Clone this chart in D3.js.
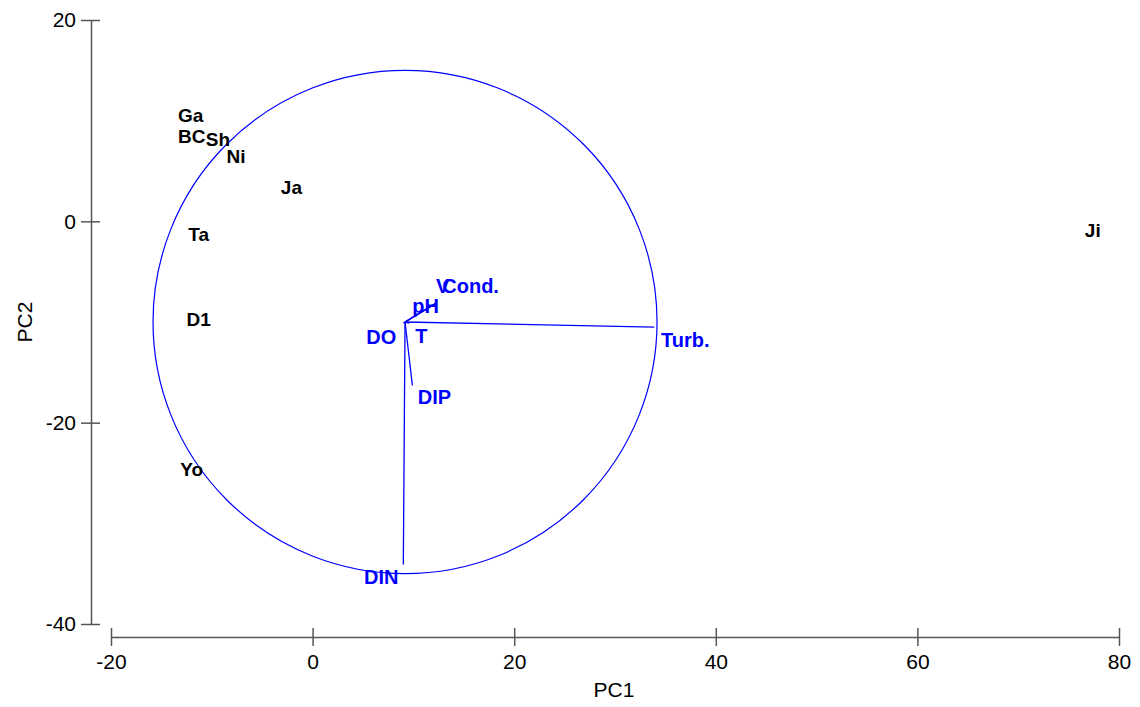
<!DOCTYPE html>
<html>
<head>
<meta charset="utf-8">
<script src="https://cdn.jsdelivr.net/npm/d3@7"></script>
<style>
  body { margin: 0; background: #fff; }
  svg { font-family: Arial, "Liberation Sans", sans-serif; }
</style>
</head>
<body>
<div id="chart"></div>
<script>
// sample scores (PC1, PC2)
const sites = ["Ga", "BC", "Sh", "Ni", "Ja", "Ta", "D1", "Yo", "Ji"];
const sitePC1 = [-12.1, -12.0, -9.4, -7.6, -2.1, -11.3, -11.3, -12.0, 77.4];
const sitePC2 = [10.5, 8.4, 8.1, 6.5, 3.4, -1.3, -9.7, -24.6, -0.9];

// environmental vectors (end points, drawn from the circle centre)
const vars = ["Cond.", "V", "pH", "DO", "T", "Turb.", "DIP", "DIN"];
const varPC1 = [12.3, 12.3, 12.3, 9.0, 9.6, 33.9, 9.9, 9.0];
const varPC2 = [-8.1, -8.1, -8.1, -10.1, -10.1, -10.5, -16.3, -34.1];

// correlation circle
const circleCentre = [9.17, -10.0];
const circleRadius = 25;

const xTicks = [-20, 0, 20, 40, 60, 80];
const yTicks = [20, 0, -20, -40];

// label nudges in pixels so the text sits where the original put it
const labelNudge = {
  "Cond.": [34, -10], "V": [6, -10], "pH": [-11, 10], "DO": [-22, 21],
  "T": [12, 20], "Turb.": [31, 20], "DIP": [22, 19], "DIN": [-22, 19]
};

const W = 1140, H = 707;
const svg = d3.select("#chart").append("svg").attr("width", W).attr("height", H);

const x = d3.scaleLinear().domain([-20, 80]).range([111, 1119]);
const y = d3.scaleLinear().domain([20, -40]).range([20, 624]);

const axisColor = "#555";
const fmt = d => String(d);

// y axis
const yAxis = svg.append("g")
  .attr("transform", "translate(91,0)")
  .call(d3.axisLeft(y).tickValues(yTicks).tickSize(10).tickSizeOuter(0).tickFormat(fmt));
yAxis.select(".domain").attr("stroke", axisColor).attr("stroke-width", 1.5);
yAxis.selectAll(".tick line").attr("x1", 9).attr("stroke", axisColor).attr("stroke-width", 1.5);
yAxis.selectAll(".tick text").attr("x", -15).attr("font-size", 21).attr("fill", "#000")
  .style("font-family", "Arial, 'Liberation Sans', sans-serif");

// x axis
const xAxis = svg.append("g")
  .attr("transform", "translate(0,637)")
  .call(d3.axisBottom(x).tickValues(xTicks).tickSize(9).tickSizeOuter(0).tickFormat(fmt));
xAxis.select(".domain").attr("stroke", axisColor).attr("stroke-width", 1.5);
xAxis.selectAll(".tick line").attr("y1", -9).attr("stroke", axisColor).attr("stroke-width", 1.5);
xAxis.selectAll(".tick text").attr("y", 17).attr("font-size", 21).attr("fill", "#000")
  .style("font-family", "Arial, 'Liberation Sans', sans-serif");

// axis titles
svg.append("text").attr("x", 614).attr("y", 697).attr("text-anchor", "middle")
  .attr("font-size", 21).text("PC1");
svg.append("text").attr("transform", "translate(32,322) rotate(-90)")
  .attr("text-anchor", "middle").attr("font-size", 21).text("PC2");

// circle
const cx = x(circleCentre[0]), cy = y(circleCentre[1]);
svg.append("ellipse")
  .attr("cx", cx).attr("cy", cy)
  .attr("rx", x(circleRadius) - x(0)).attr("ry", y(0) - y(circleRadius))
  .attr("fill", "none").attr("stroke", "#0000ff").attr("stroke-width", 1.2);

// vectors
const vecData = vars.map((v, i) => ({ name: v, px: varPC1[i], py: varPC2[i] }));
svg.append("g").selectAll("line").data(vecData).join("line")
  .attr("x1", cx).attr("y1", cy)
  .attr("x2", d => x(d.px)).attr("y2", d => y(d.py))
  .attr("stroke", "#0000ff").attr("stroke-width", 1.3);

svg.append("g").selectAll("text").data(vecData).join("text")
  .attr("x", d => x(d.px) + labelNudge[d.name][0])
  .attr("y", d => y(d.py) + labelNudge[d.name][1])
  .attr("text-anchor", "middle")
  .attr("font-size", 20).attr("font-weight", "bold")
  .attr("fill", "#0000ff")
  .text(d => d.name);

// site labels
const siteData = sites.map((s, i) => ({ name: s, px: sitePC1[i], py: sitePC2[i] }));
svg.append("g").selectAll("text").data(siteData).join("text")
  .attr("x", d => x(d.px)).attr("y", d => y(d.py))
  .attr("dy", "0.35em")
  .attr("text-anchor", "middle")
  .attr("font-size", 19).attr("font-weight", "bold")
  .attr("fill", "#000")
  .text(d => d.name);
</script>
</body>
</html>
